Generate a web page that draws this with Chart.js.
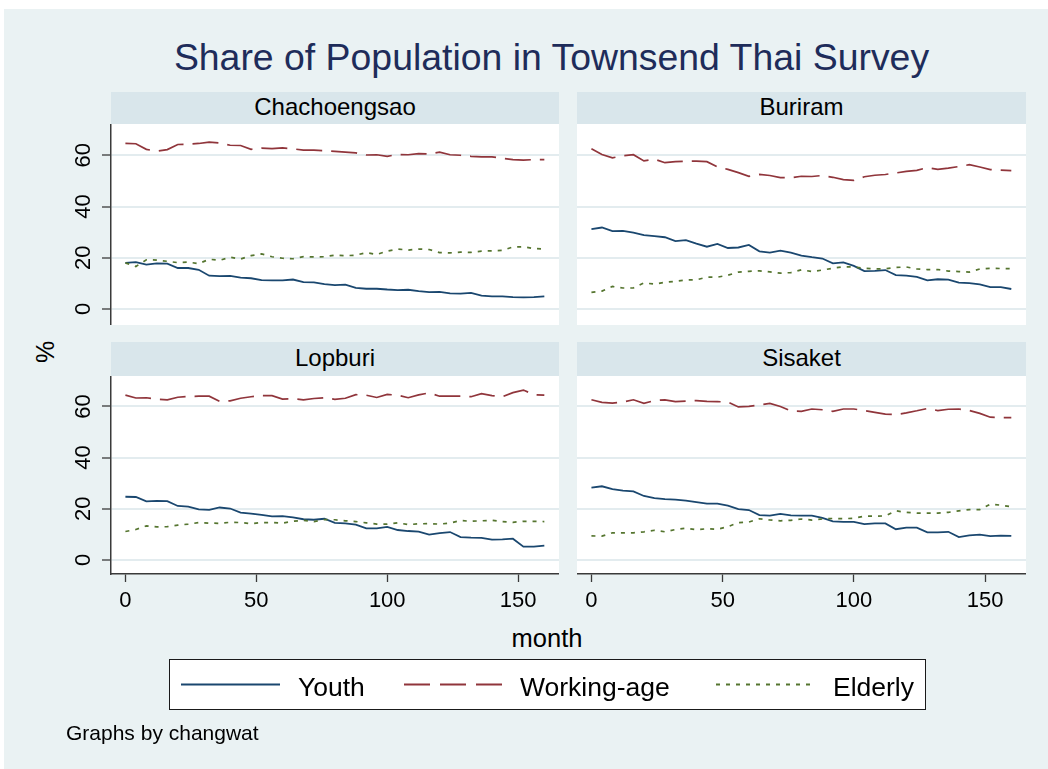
<!DOCTYPE html>
<html>
<head>
<meta charset="utf-8">
<script src="https://cdn.jsdelivr.net/npm/chart.js@4.4.1/dist/chart.umd.min.js"></script>
<style>
  html, body { margin: 0; padding: 0; background: #fff; }
  body { width: 1048px; height: 769px; position: relative; overflow: hidden;
         font-family: 'Liberation Sans', Arial, sans-serif; }
  #bg { position: absolute; left: 4px; top: 9px; width: 1044px; height: 760px; background: #eaf2f3; }
  .txt { position: absolute; white-space: nowrap; color: #000; }
  .strip { position: absolute; background: #d9e6eb; color: #000; font-size: 24px; text-align: center; }
  canvas { position: absolute; }
  #legend { position: absolute; left: 169px; top: 659px; width: 757px; height: 51px;
            box-sizing: border-box; border: 1px solid #1a1a1a; background: #fff; }
</style>
</head>
<body>
<div id="bg"></div>

<div class="txt" style="left:0;width:1103px;top:39px;font-size:37.4px;line-height:37px;text-align:center;color:#1e2c5a">Share of Population in Townsend Thai Survey</div>

<div class="strip" style="left:111px;top:92px;width:448px;height:32px;line-height:30px">Chachoengsao</div>
<div class="strip" style="left:577px;top:92px;width:449px;height:32px;line-height:30px">Buriram</div>
<div class="strip" style="left:111px;top:342px;width:448px;height:34px;line-height:32px">Lopburi</div>
<div class="strip" style="left:577px;top:342px;width:449px;height:34px;line-height:32px">Sisaket</div>

<canvas id="p1" width="539" height="201" style="left:20px;top:124px"></canvas>
<canvas id="p2" width="449" height="201" style="left:577px;top:124px"></canvas>
<canvas id="p3" width="539" height="243" style="left:20px;top:376px"></canvas>
<canvas id="p4" width="449" height="243" style="left:577px;top:376px"></canvas>

<div class="txt" style="left:45px;top:352px;font-size:25px;line-height:25px;transform:translate(-50%,-50%) rotate(-90deg)">%</div>
<div class="txt" style="left:547px;top:626px;font-size:25.5px;line-height:25px;transform:translateX(-50%)">month</div>

<div id="legend"></div>
<svg width="1048" height="769" style="position:absolute;left:0;top:0">
  <line x1="181" y1="684.5" x2="280" y2="684.5" stroke="#1a476f" stroke-width="2"/>
  <line x1="404" y1="684.5" x2="505" y2="684.5" stroke="#90353b" stroke-width="2" stroke-dasharray="26 10"/>
  <line x1="716" y1="684.5" x2="815" y2="684.5" stroke="#55752f" stroke-width="2" stroke-dasharray="4 6"/>
</svg>
<div class="txt" style="left:298px;top:674px;font-size:26.5px;line-height:26px">Youth</div>
<div class="txt" style="left:520px;top:674px;font-size:26.5px;line-height:26px">Working-age</div>
<div class="txt" style="left:833px;top:674px;font-size:26.5px;line-height:26px">Elderly</div>

<div class="txt" style="left:66px;top:723px;font-size:21px;line-height:20px">Graphs by changwat</div>

<script>
// months sampled every 4 months
const months = [0, 4, 8, 12, 16, 20, 24, 28, 32, 36, 40, 44, 48, 52, 56, 60, 64, 68, 72, 76,
  80, 84, 88, 92, 96, 100, 104, 108, 112, 116, 120, 124, 128, 132, 136, 140, 144, 148, 152, 156, 160];

const xTicks = [0, 50, 100, 150];
const yTicks = [0, 20, 40, 60];

// Chachoengsao
const chachYouth = [18.0, 18.3, 17.3, 17.8, 17.7, 16.0, 16.0, 15.3, 13.0, 12.8, 12.9, 12.2, 12.0, 11.3, 11.2, 11.2, 11.5, 10.5, 10.4, 9.7,
  9.3, 9.5, 8.2, 7.9, 7.9, 7.6, 7.4, 7.5, 7.0, 6.6, 6.7, 6.1, 6.0, 6.3, 5.2, 4.9, 4.9, 4.6, 4.5, 4.6, 4.9];
const chachWork = [64.6, 64.5, 62.3, 61.6, 62.2, 64.2, 64.3, 64.6, 65.1, 64.8, 63.9, 63.8, 62.3, 62.8, 62.6, 62.9, 62.5, 62.0, 62.0, 61.8,
  61.5, 61.2, 60.9, 60.1, 60.2, 59.6, 60.3, 60.2, 60.6, 60.5, 61.2, 60.2, 60.0, 59.6, 59.4, 59.4, 58.8, 58.3, 58.1, 58.3, 58.3];
const chachEld = [18.0, 16.6, 19.2, 19.1, 18.6, 18.1, 18.3, 17.7, 19.4, 19.0, 20.2, 19.5, 20.8, 21.5, 20.4, 19.8, 19.6, 20.4, 20.3, 20.4,
  21.0, 20.8, 21.0, 22.0, 21.3, 22.6, 23.4, 23.0, 23.4, 23.2, 22.0, 21.9, 22.2, 22.1, 22.6, 22.7, 22.9, 24.2, 24.3, 23.6, 23.4];

// Buriram
const buriYouth = [31.2, 31.8, 30.4, 30.5, 29.8, 28.8, 28.4, 28.0, 26.5, 26.9, 25.5, 24.3, 25.4, 23.8, 24.0, 25.0, 22.5, 22.0, 22.8, 22.0,
  20.8, 20.2, 19.7, 17.8, 18.2, 16.8, 14.8, 14.9, 15.2, 13.2, 13.0, 12.5, 11.2, 11.6, 11.5, 10.3, 10.1, 9.6, 8.5, 8.5, 7.8];
const buriWork = [62.5, 60.3, 59.0, 59.8, 60.2, 57.8, 58.5, 57.1, 57.5, 57.7, 57.7, 57.5, 55.5, 54.5, 53.2, 51.8, 52.5, 52.1, 51.3, 51.2,
  51.8, 51.7, 52.1, 51.4, 50.5, 50.2, 51.6, 52.2, 52.5, 53.1, 53.7, 54.1, 55.2, 54.5, 55.0, 55.6, 56.3, 55.4, 54.4, 54.2, 54.0];
const buriEld = [6.5, 7.0, 8.8, 8.2, 8.2, 10.2, 9.7, 10.4, 10.8, 11.3, 11.4, 12.4, 12.4, 13.2, 14.4, 14.7, 14.9, 14.5, 14.0, 14.2,
  15.3, 14.6, 15.2, 15.9, 16.5, 16.4, 15.9, 15.6, 15.7, 16.2, 16.4, 15.6, 15.4, 15.4, 14.8, 14.6, 14.4, 15.6, 15.9, 15.8, 15.7];

// Lopburi
const lopYouth = [24.7, 24.6, 22.9, 23.1, 23.0, 21.1, 20.8, 19.8, 19.6, 20.5, 20.1, 18.5, 18.1, 17.6, 17.0, 17.1, 16.6, 15.9, 15.7, 16.1,
  14.5, 14.3, 13.8, 12.3, 12.3, 12.9, 11.7, 11.3, 11.1, 9.9, 10.5, 10.9, 8.9, 8.7, 8.6, 7.9, 8.0, 8.3, 5.2, 5.2, 5.6];
const lopWork = [64.4, 63.3, 63.4, 62.8, 62.6, 63.6, 63.9, 64.0, 64.0, 62.0, 62.2, 63.2, 63.8, 64.2, 64.2, 62.9, 63.0, 62.6, 63.1, 63.4,
  62.8, 63.2, 64.6, 64.4, 63.5, 64.7, 64.4, 63.4, 64.5, 65.3, 64.0, 64.0, 64.0, 63.8, 65.0, 64.2, 63.8, 65.4, 66.4, 64.6, 64.4];
const lopEld = [11.1, 11.9, 13.3, 12.9, 13.0, 13.6, 14.0, 14.6, 14.4, 14.3, 14.7, 14.6, 14.2, 14.6, 14.6, 14.4, 15.1, 15.5, 15.0, 15.8,
  15.7, 15.3, 15.0, 14.5, 14.0, 14.0, 14.5, 13.8, 14.1, 14.2, 14.0, 14.4, 15.4, 15.1, 15.3, 15.5, 15.0, 14.7, 15.1, 15.1, 15.0];

// Sisaket
const sisYouth = [28.3, 28.8, 27.7, 27.1, 26.8, 25.0, 24.2, 23.8, 23.6, 23.2, 22.6, 22.0, 22.0, 21.2, 19.9, 19.5, 17.5, 17.3, 18.0, 17.4,
  17.3, 17.3, 16.4, 15.1, 14.9, 14.9, 14.0, 14.3, 14.3, 12.0, 12.6, 12.6, 10.8, 10.8, 11.0, 8.9, 9.6, 9.9, 9.3, 9.5, 9.4];
const sisWork = [62.6, 61.6, 61.3, 61.7, 62.6, 61.2, 62.3, 62.6, 61.9, 62.1, 62.3, 62.0, 61.9, 61.7, 59.8, 60.0, 60.6, 61.2, 60.0, 58.2,
  58.1, 59.0, 58.7, 58.1, 59.0, 59.0, 58.4, 57.7, 57.0, 56.8, 57.5, 58.3, 59.2, 58.4, 58.9, 59.0, 58.4, 57.3, 55.8, 55.6, 55.6];
const sisEld = [9.4, 9.3, 10.6, 10.6, 10.6, 11.0, 11.6, 11.0, 11.9, 12.4, 11.8, 12.2, 12.0, 13.0, 14.6, 14.8, 16.1, 15.6, 15.3, 15.5,
  16.0, 15.6, 16.0, 16.2, 16.1, 16.3, 17.1, 17.1, 17.2, 19.2, 18.6, 18.3, 18.3, 18.3, 18.6, 19.2, 19.7, 19.7, 21.8, 21.4, 20.8];

const FONT = "'Liberation Sans', Arial, sans-serif";
const AXIS = '#3a3a3a';
const GRID = '#e3ecef';
const COL = { youth: '#1a476f', work: '#90353b', eld: '#55752f' };

// white plot region
const plotBg = {
  id: 'plotBg',
  beforeDraw(chart) {
    const { ctx, chartArea: a } = chart;
    ctx.save();
    ctx.fillStyle = '#ffffff';
    ctx.fillRect(a.left, a.top, a.right - a.left, a.bottom - a.top);
    ctx.restore();
  }
};

const pts = vals => months.map((m, i) => ({ x: m, y: vals[i] }));

function makePanel(id, youth, work, eld, showY, showX, yMin, yMax) {
  return new Chart(document.getElementById(id), {
    type: 'line',
    data: {
      datasets: [
        { label: 'Youth', data: pts(youth), borderColor: COL.youth, borderWidth: 1.8, order: 2 },
        { label: 'Working-age', data: pts(work), borderColor: COL.work, borderWidth: 1.7, borderDash: [26, 9], order: 1 },
        { label: 'Elderly', data: pts(eld), borderColor: COL.eld, borderWidth: 1.7, borderDash: [4, 6], order: 0 }
      ]
    },
    options: {
      responsive: false,
      animation: false,
      layout: { padding: 0 },
      elements: { point: { radius: 0 }, line: { tension: 0, fill: false } },
      plugins: { legend: { display: false }, tooltip: { enabled: false } },
      scales: {
        x: {
          type: 'linear', min: -5.5, max: 165.6, display: showX,
          afterBuildTicks: s => { s.ticks = xTicks.map(v => ({ value: v })); },
          afterFit: s => { if (showX) { s.height = 45; s.paddingLeft = 0; s.paddingRight = 0; } },
          grid: { drawOnChartArea: false, drawTicks: true, tickLength: 8, tickColor: AXIS, tickWidth: 1.3 },
          border: { display: true, color: AXIS, width: 1.5 },
          ticks: { minRotation: 0, maxRotation: 0, padding: 6, color: '#000', font: { family: FONT, size: 22 } }
        },
        y: {
          min: yMin, max: yMax,
          afterBuildTicks: s => { s.ticks = yTicks.map(v => ({ value: v })); },
          afterFit: s => { s.width = showY ? 91 : 0; s.paddingTop = 0; s.paddingBottom = 0; },
          grid: { color: GRID, lineWidth: 2, drawTicks: showY, tickLength: 9, tickColor: AXIS, tickWidth: 1.3 },
          border: { display: showY, color: AXIS, width: 1.5 },
          ticks: { display: showY, minRotation: 90, maxRotation: 90, crossAlign: 'center', padding: 6,
                   color: '#000', font: { family: FONT, size: 22 } }
        }
      }
    },
    plugins: [plotBg]
  });
}

makePanel('p1', chachYouth, chachWork, chachEld, true, false, -6.25, 72.2);
makePanel('p2', buriYouth, buriWork, buriEld, false, false, -6.25, 72.2);
makePanel('p3', lopYouth, lopWork, lopEld, true, true, -5.5, 71.9);
makePanel('p4', sisYouth, sisWork, sisEld, false, true, -5.5, 71.9);
</script>
</body>
</html>
